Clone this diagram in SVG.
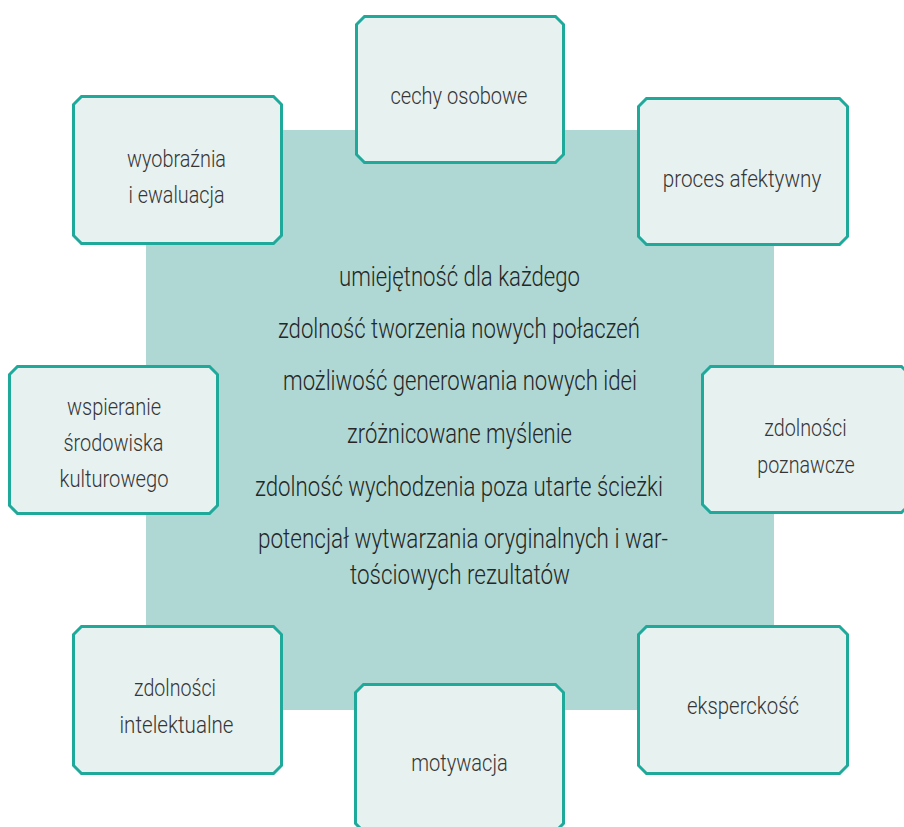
<svg xmlns="http://www.w3.org/2000/svg" width="904" height="827" viewBox="0 0 904 827">
<style>
.bg{fill:#afd8d4}
.box{fill:#e7f1f0;stroke:#1ea99b;stroke-width:3;stroke-linejoin:miter}
.t{font-family:Roboto,"Liberation Sans",sans-serif;font-weight:300;font-size:24px;fill:#353535;text-anchor:middle}
.c{font-family:Roboto,"Liberation Sans",sans-serif;font-weight:300;font-size:28px;fill:#262626;text-anchor:middle}
</style>
<rect id="center-bg" class="bg" x="146" y="130" width="628" height="580"/>
<g id="connectors"/>
<g id="center">
<text class="c" x="459.5" y="286" textLength="241" lengthAdjust="spacingAndGlyphs">umiejętność dla każdego</text>
<text class="c" x="459" y="338" textLength="362" lengthAdjust="spacingAndGlyphs">zdolność tworzenia nowych połaczeń</text>
<text class="c" x="460" y="390" textLength="354" lengthAdjust="spacingAndGlyphs">możliwość generowania nowych idei</text>
<text class="c" x="459.5" y="443" textLength="225" lengthAdjust="spacingAndGlyphs">zróżnicowane myślenie</text>
<text class="c" x="459" y="496" textLength="408" lengthAdjust="spacingAndGlyphs">zdolność wychodzenia poza utarte ścieżki</text>
<text class="c" x="463" y="548" textLength="410" lengthAdjust="spacingAndGlyphs">potencjał wytwarzania oryginalnych i war-</text>
<text class="c" x="460" y="584" textLength="220" lengthAdjust="spacingAndGlyphs">tościowych rezultatów</text>
</g>
<g id="cechy-osobowe">
<polygon class="box" points="364.5,16.5 555.5,16.5 563.5,24.5 563.5,154.5 555.5,162.5 364.5,162.5 356.5,154.5 356.5,24.5"/>
<text class="t" x="459" y="103.5" textLength="137" lengthAdjust="spacingAndGlyphs">cechy osobowe</text>
</g>
<g id="wyobraznia">
<polygon class="box" points="81.5,96.5 273.5,96.5 281.5,104.5 281.5,235.5 273.5,243.5 81.5,243.5 73.5,235.5 73.5,104.5"/>
<text class="t" x="176.5" y="167" textLength="99" lengthAdjust="spacingAndGlyphs">wyobraźnia</text>
<text class="t" x="176.5" y="203" textLength="96" lengthAdjust="spacingAndGlyphs">i ewaluacja</text>
</g>
<g id="wspieranie">
<polygon class="box" points="17.5,366.5 209.5,366.5 217.5,374.5 217.5,505.5 209.5,513.5 17.5,513.5 9.5,505.5 9.5,374.5"/>
<text class="t" x="114" y="415" textLength="94" lengthAdjust="spacingAndGlyphs">wspieranie</text>
<text class="t" x="113.5" y="451" textLength="100" lengthAdjust="spacingAndGlyphs">środowiska</text>
<text class="t" x="114" y="487" textLength="109" lengthAdjust="spacingAndGlyphs">kulturowego</text>
</g>
<g id="proces-afektywny">
<polygon class="box" points="646.5,98.5 839.5,98.5 847.5,106.5 847.5,236.5 839.5,244.5 646.5,244.5 638.5,236.5 638.5,106.5"/>
<text class="t" x="742" y="186.5" textLength="158.5" lengthAdjust="spacingAndGlyphs">proces afektywny</text>
</g>
<g id="zdolnosci-poznawcze">
<polygon class="box" points="710.5,366.5 901.5,366.5 909.5,374.5 909.5,504.5 901.5,512.5 710.5,512.5 702.5,504.5 702.5,374.5"/>
<text class="t" x="805.5" y="436" textLength="82.5" lengthAdjust="spacingAndGlyphs">zdolności</text>
<text class="t" x="806" y="472.5" textLength="97.5" lengthAdjust="spacingAndGlyphs">poznawcze</text>
</g>
<g id="zdolnosci-intelektualne">
<polygon class="box" points="81.5,626.5 273.5,626.5 281.5,634.5 281.5,765.5 273.5,773.5 81.5,773.5 73.5,765.5 73.5,634.5"/>
<text class="t" x="175" y="696" textLength="82" lengthAdjust="spacingAndGlyphs">zdolności</text>
<text class="t" x="176.5" y="733" textLength="114" lengthAdjust="spacingAndGlyphs">intelektualne</text>
</g>
<g id="motywacja">
<polygon class="box" points="363.5,684.5 555.5,684.5 563.5,692.5 563.5,823.5 555.5,831.5 363.5,831.5 355.5,823.5 355.5,692.5"/>
<text class="t" x="459.5" y="770.5" textLength="96.5" lengthAdjust="spacingAndGlyphs">motywacja</text>
</g>
<g id="eksperckosc">
<polygon class="box" points="646.5,626.5 839.5,626.5 847.5,634.5 847.5,765.5 839.5,773.5 646.5,773.5 638.5,765.5 638.5,634.5"/>
<text class="t" x="743" y="714" textLength="112" lengthAdjust="spacingAndGlyphs">eksperckość</text>
</g>
</svg>
